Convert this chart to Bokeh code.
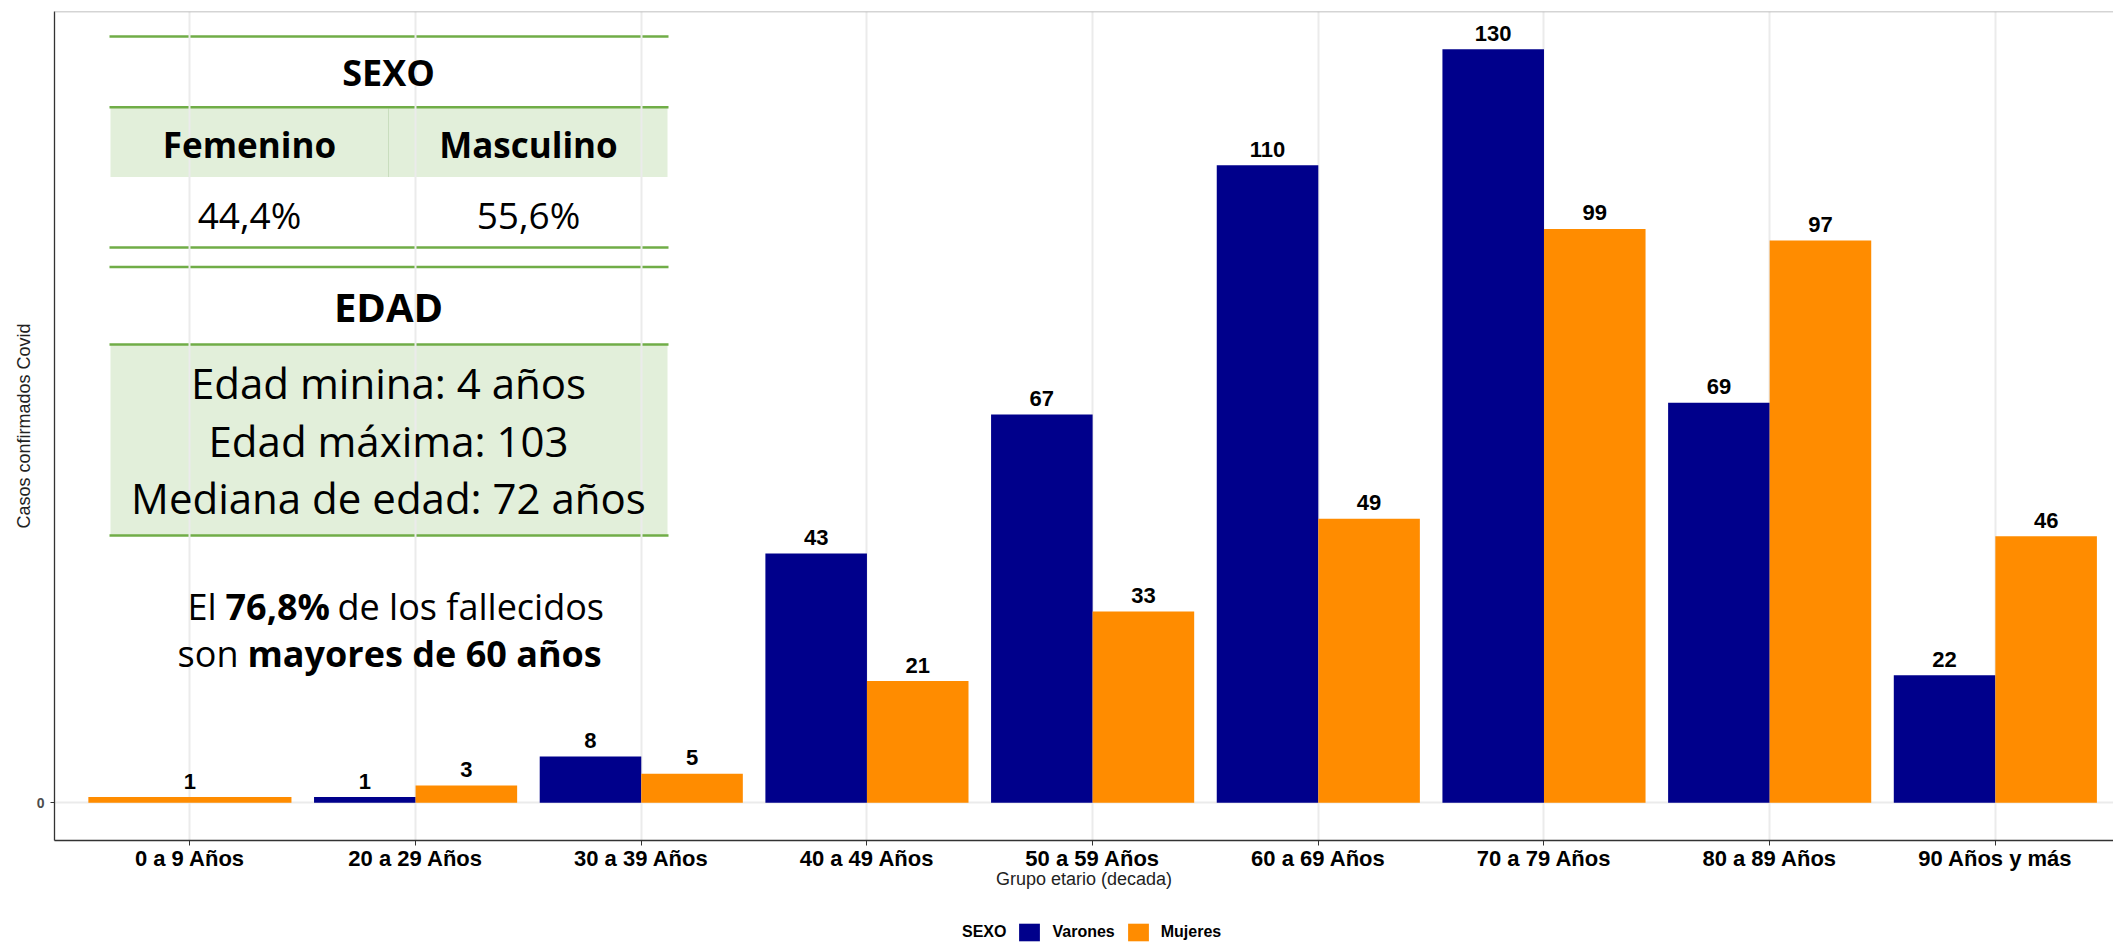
from bokeh.plotting import figure
from bokeh.layouts import column
from bokeh.models import (Range1d, FixedTicker, Span, Legend, LegendItem,
                          ColumnDataSource)
from bokeh.embed import file_html
from bokeh.resources import INLINE
from bokeh.core.properties import value

# ---------------- data ----------------
categories = ["0 a 9 Años", "20 a 29 Años", "30 a 39 Años", "40 a 49 Años",
              "50 a 59 Años", "60 a 69 Años", "70 a 79 Años", "80 a 89 Años",
              "90 Años y más"]
varones = [None, 1, 8, 43, 67, 110, 130, 69, 22]
mujeres = [1, 3, 5, 21, 33, 49, 99, 97, 46]
series_names = ["Varones", "Mujeres"]
series_colors = ["#00008B", "#FF8C00"]
legend_title = "SEXO"
y_ticks = [0]

sexo_title = "SEXO"
sexo_headers = ["Femenino", "Masculino"]
sexo_pct = ["44,4%", "55,6%"]
edad_title = "EDAD"
edad_lines = ["Edad minina: 4 años", "Edad máxima: 103", "Mediana de edad: 72 años"]

# ---------------- layout constants (page pixels) ----------------
W, H = 2113, 944
FL, FR, FT, FB = 54, 2113, 11, 840
X0, X1 = 0.4, 0.4 + (FR - FL) / 225.68
Y0, Y1 = -6.5, 136.5
MAIN_BOTTOM_BORDER = 70
MAIN_H = FB + MAIN_BOTTOM_BORDER
LEG_H = H - MAIN_H


def dx(px):
    return X0 + (px - FL) / (FR - FL) * (X1 - X0)


def dy(py):
    return Y1 - (py - FT) / (FB - FT) * (Y1 - Y0)


# ---------------- dodge positions ----------------
DODGE = 0.9
series_values = {"Varones": varones, "Mujeres": mujeres}
series_data = {n: {"x": [], "top": [], "w": [], "label": []} for n in series_names}
for i, cat in enumerate(categories):
    present = [n for n in series_names if series_values[n][i] is not None]
    w = DODGE / len(present)
    for k, n in enumerate(present):
        v = series_values[n][i]
        series_data[n]["x"].append((i + 1) - DODGE / 2 + w * (k + 0.5))
        series_data[n]["top"].append(v)
        series_data[n]["w"].append(w)
        series_data[n]["label"].append(str(v))

R_FONT = value("Liberation Sans")
T_FONT = value("Open Sans")

p = figure(width=W, height=MAIN_H, output_backend="svg", toolbar_location=None,
           x_range=Range1d(X0, X1), y_range=Range1d(Y0, Y1),
           min_border_left=FL, min_border_right=0, min_border_top=FT,
           min_border_bottom=MAIN_BOTTOM_BORDER, title_location=None)
p.outline_line_color = None
p.background_fill_color = "white"
p.border_fill_color = "white"

# ---------------- axes / grid ----------------
p.xaxis.ticker = FixedTicker(ticks=list(range(1, len(categories) + 1)))
p.xaxis.major_label_overrides = {i + 1: c for i, c in enumerate(categories)}
p.xaxis.minor_tick_line_color = None
p.xaxis.major_tick_out = 5
p.xaxis.major_tick_in = 0
p.xaxis.major_tick_line_color = "#333333"
p.xaxis.axis_line_color = "#333333"
p.xaxis.axis_line_width = 1.3
p.xaxis.major_label_text_font = "Liberation Sans"
p.xaxis.major_label_text_font_size = "22px"
p.xaxis.major_label_text_font_style = "bold"
p.xaxis.major_label_text_color = "black"
p.xaxis.major_label_standoff = 0
p.xaxis.axis_label = "Grupo etario (decada)"
p.xaxis.axis_label_text_font = "Liberation Sans"
p.xaxis.axis_label_text_font_size = "18px"
p.xaxis.axis_label_text_font_style = "normal"
p.xaxis.axis_label_text_color = "#222222"
p.xaxis.axis_label_standoff = -5

p.yaxis.ticker = FixedTicker(ticks=y_ticks)
p.yaxis.minor_tick_line_color = None
p.yaxis.major_tick_out = 4
p.yaxis.major_tick_in = 0
p.yaxis.major_tick_line_color = "#333333"
p.yaxis.axis_line_color = "#333333"
p.yaxis.axis_line_width = 1.3
p.yaxis.major_label_text_font = "Liberation Sans"
p.yaxis.major_label_text_font_size = "14px"
p.yaxis.major_label_text_font_style = "bold"
p.yaxis.major_label_text_color = "#4D4D4D"
p.yaxis.major_label_standoff = 6
p.yaxis.axis_label = "Casos confirmados Covid"
p.yaxis.axis_label_text_font = "Liberation Sans"
p.yaxis.axis_label_text_font_size = "18px"
p.yaxis.axis_label_text_font_style = "normal"
p.yaxis.axis_label_text_color = "#222222"
p.yaxis.axis_label_standoff = 0

p.xgrid.grid_line_color = "#EBEBEB"
p.xgrid.grid_line_width = 2
p.ygrid.grid_line_color = "#EBEBEB"
p.ygrid.grid_line_width = 2

p.add_layout(Span(location=Y1, dimension="width", line_color="#AAAAAA", line_width=1.5))

# ---------------- inset table (drawn under the grid) ----------------
TL, TR = 109, 668
GREEN_LINE = "#70AD47"
GREEN_FILL = "#E2EFDA"
p.quad(left=[dx(TL + 1), dx(TL + 1)], right=[dx(TR - 1), dx(TR - 1)],
       top=[dy(107.5), dy(344)], bottom=[dy(176.5), dy(535)],
       fill_color=GREEN_FILL, line_color=None, level="image")
p.segment(x0=[dx(388)], y0=[dy(108)], x1=[dx(388)], y1=[dy(176.5)],
          line_color="#C9DDBE", line_width=1, level="image")
line_ys = [36, 106.7, 247, 266.5, 344, 535]
p.segment(x0=[dx(TL)] * len(line_ys), x1=[dx(TR)] * len(line_ys),
          y0=[dy(v) for v in line_ys], y1=[dy(v) for v in line_ys],
          line_color=GREEN_LINE, line_width=2.5, level="image")


def txt(xs, ys, texts, size, style="normal", align="center"):
    shift = 0.3 * size
    p.text(x=[dx(v) for v in xs], y=[dy(v - shift) for v in ys], text=texts,
           text_font=T_FONT, text_font_size=value(f"{size}px"), text_font_style=style,
           text_align=align, text_baseline="alphabetic", text_color="black")


txt([388], [83], [sexo_title], 36, "bold")
txt([249, 528], [154, 154], sexo_headers, 35, "bold")
txt([249, 528], [225, 225], sexo_pct, 37)
txt([388], [318], [edad_title], 40, "bold")
txt([388, 388, 388], [395, 453, 510], edad_lines, 42)
txt([216], [617], ["El"], 36, align="right")
txt([225], [617], ["76,8%"], 36, "bold", align="left")
txt([337], [617], ["de los fallecidos"], 36, align="left")
txt([238], [664], ["son"], 36, align="right")
txt([247], [664], ["mayores de 60 años"], 36, "bold", align="left")

# ---------------- bars ----------------
for n, col in zip(series_names, series_colors):
    src = ColumnDataSource(series_data[n])
    p.vbar(x="x", top="top", width="w", bottom=0, source=src,
           fill_color=col, line_color=None)
    p.text(x="x", y="top", text="label", source=src, y_offset=-16,
           text_align="center", text_baseline="alphabetic",
           text_font=R_FONT, text_font_size=value("22px"),
           text_font_style="bold", text_color="black")

# ---------------- legend strip (separate small figure) ----------------
lg = figure(width=W, height=LEG_H, output_backend="svg", toolbar_location=None,
            x_range=Range1d(0, 1), y_range=Range1d(0, 1),
            min_border_left=FL, min_border_right=0, min_border_top=0,
            min_border_bottom=0, title_location=None,
            x_axis_location=None, y_axis_location=None)
lg.outline_line_color = None
lg.xgrid.visible = False
lg.ygrid.visible = False
lg.background_fill_color = "white"
lg.border_fill_color = "white"

# swatch carriers: zero-height bars, invisible in the strip itself
title_r = lg.vbar(x=[0.5], top=[0], bottom=[0], width=0.01, fill_alpha=0, line_alpha=0)
items = [LegendItem(label=legend_title, renderers=[title_r])]
for n, col in zip(series_names, series_colors):
    rr = lg.vbar(x=[0.5], top=[0], bottom=[0], width=0.01, fill_color=col, line_color=None)
    items.append(LegendItem(label=n, renderers=[rr]))

legend = Legend(items=items, orientation="horizontal",
                location=(926 - FL, 1),
                padding=0, margin=0, border_line_color=None, background_fill_alpha=0,
                glyph_width=26, glyph_height=22, label_standoff=10, spacing=10,
                label_text_font="Liberation Sans", label_text_font_size="16px",
                label_text_font_style="bold", label_text_color="black")
lg.add_layout(legend)

layout = column(p, lg, spacing=0)
open("out.html", "w").write(file_html(layout, INLINE))
